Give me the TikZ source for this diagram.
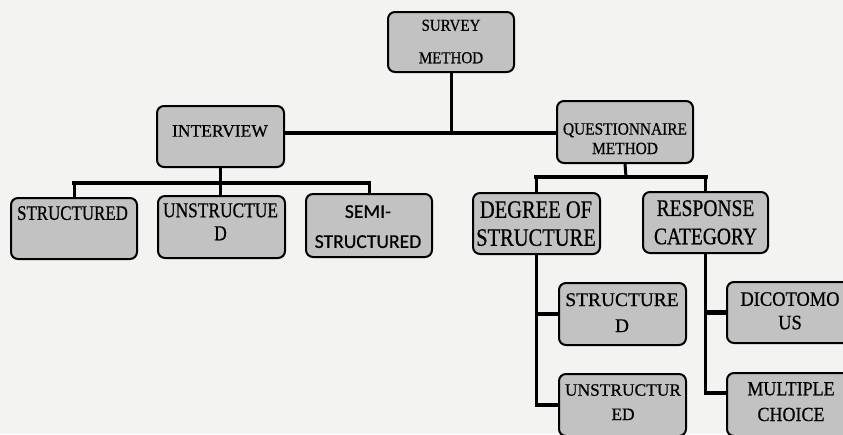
\documentclass[tikz,border=0pt]{standalone}
\usepackage{fontspec}
\setmainfont{Liberation Serif}
\newfontfamily\serifA[FakeBold=0.6]{Liberation Serif}
\newfontfamily\serifB[FakeStretch=0.9,FakeBold=0.6]{Liberation Serif}
\newfontfamily\serifC[FakeStretch=0.82,FakeBold=0.6]{Liberation Serif}
\newfontfamily\sansC[FakeBold=0.6]{Carlito}
\definecolor{boxfill}{RGB}{194,194,194}
\definecolor{paper}{RGB}{243,243,241}
\newcommand\fsz[3]{#1\fontsize{#2}{#3}\selectfont}
\tikzset{
  box/.style={draw=black, line width=2pt, rounded corners=7pt, fill=boxfill, inner sep=0pt},
  lbl/.style={anchor=north, align=center, inner sep=0pt, text=black},
  hbar/.style={line width=4.2pt, line cap=rect},
  vbar/.style={line width=3pt},
}
\begin{document}
\begin{tikzpicture}[x=1pt,y=-1pt]
\useasboundingbox (0,0) rectangle (843,434);
\fill[paper] (0,0) rectangle (843,434);
\clip (0,0) rectangle (843,434);

% boxes
\node[box, minimum width=126pt, minimum height=60pt] (sv) at (451,42) {};
\node[box, minimum width=127pt, minimum height=61pt] (iv) at (220.5,136.5) {};
\node[box, minimum width=136pt, minimum height=62pt] (qm) at (625,132) {};
\node[box, minimum width=126pt, minimum height=61pt] (s1) at (74,228.5) {};
\node[box, minimum width=127pt, minimum height=62pt] (s2) at (221.5,227) {};
\node[box, minimum width=126pt, minimum height=63pt] (s3) at (369,225.5) {};
\node[box, minimum width=127pt, minimum height=61pt] (dg) at (536.5,223.5) {};
\node[box, minimum width=125pt, minimum height=61pt] (rc) at (705.5,222.5) {};
\node[box, minimum width=127pt, minimum height=62pt] (sd) at (622.5,314) {};
\node[box, minimum width=127pt, minimum height=62pt] (ue) at (622.5,405) {};
\node[box, minimum width=126pt, minimum height=61pt] (dc) at (790,312.5) {};
\node[box, minimum width=126pt, minimum height=63pt] (mc) at (790,404.5) {};

% texts
\node[lbl, font={\fsz{\serifB}{16.7}{32.5}}] (tsv) at (451,19.5) {SURVEY\\METHOD};
\node[lbl, font={\fsz{\serifA}{17.5}{20}}] (tiv) at (220,125) {INTERVIEW};
\node[lbl, font={\fsz{\serifB}{17.1}{19.5}}] (tqm) at (625,123) {QUESTIONNAIRE\\METHOD};
\node[lbl, font={\fsz{\serifC}{20.6}{23}}] (ts1) at (72.5,206) {STRUCTURED};
\node[lbl, font={\fsz{\serifC}{21.2}{23}}] (ts2) at (220.5,203) {UNSTRUCTUE\\D};
\node[lbl, font={\fsz{\sansC}{19.6}{30}}] (ts3) at (368,205) {SEMI-\\STRUCTURED};
\node[lbl, font={\fsz{\serifC}{25}{28}}] (tdg) at (536,201) {DEGREE OF\\STRUCTURE};
\node[lbl, font={\fsz{\serifC}{23.8}{28.3}}] (trc) at (705.5,200) {RESPONSE\\CATEGORY};
\node[lbl, font={\fsz{\serifA}{19.4}{26}}] (tsd) at (622,293) {STRUCTURE\\D};
\node[lbl, font={\fsz{\serifA}{17.4}{24.3}}] (tue) at (623,384) {UNSTRUCTUR\\ED};
\node[lbl, font={\fsz{\serifB}{20.5}{23.5}}] (tdc) at (790,292) {DICOTOMO\\US};
\node[lbl, font={\fsz{\serifB}{20}{25.7}}] (tmc) at (791,382) {MULTIPLE\\CHOICE};

% junctions
\coordinate (jm) at (451,133);
\coordinate (ji) at (220,183);
\coordinate (jq) at (626,177);
\coordinate (jr) at (727,393);

% connectors
\draw[vbar] (sv.south) -- (jm);
\draw[hbar, line cap=butt] (iv.east |- jm) -- (qm.west |- jm);

\draw[vbar] (iv.south) -- (iv.south |- s2.north);
\draw[hbar] (s1.north |- ji) -- (s3.north |- ji);
\draw[vbar] (s1.north |- ji) -- (s1.north);
\draw[vbar] (s3.north |- ji) -- (s3.north);

\draw[vbar] (qm.south) -- (jq);
\draw[hbar] (dg.north |- jq) -- (rc.north |- jq);
\draw[vbar] (dg.north |- jq) -- (dg.north);
\draw[vbar] (rc.north |- jq) -- (rc.north);

\draw[vbar] (dg.south) -- (dg.south |- ue.west);
\draw[hbar, line cap=butt] (dg.south |- sd.west) -- (sd.west);
\draw[hbar, line cap=butt] ([xshift=-1.5pt]dg.south |- ue.west) -- (ue.west);

\draw[vbar] (rc.south) -- (rc.south |- jr);
\draw[hbar, line cap=butt] (rc.south |- dc.west) -- (dc.west);
\draw[hbar, line cap=butt] ([xshift=-1.5pt]rc.south |- jr) -- (jr);
\end{tikzpicture}
\end{document}
